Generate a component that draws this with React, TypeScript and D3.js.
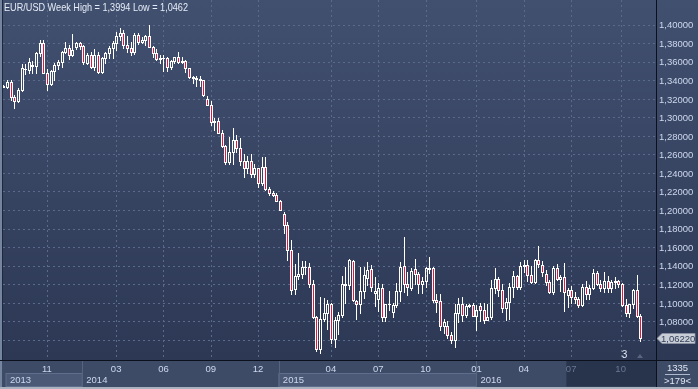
import React from 'react';
import * as d3 from 'd3';

// Weekly EUR/USD candles (oldest first)
const opens = [
  1.3335, 1.3330, 1.3385, 1.3220, 1.3170, 1.3290, 1.3525, 1.3510, 1.3560, 1.3550,
  1.3688, 1.3805, 1.3482, 1.3360, 1.3495, 1.3560, 1.3595, 1.3705, 1.3745, 1.3668,
  1.3760, 1.3800, 1.3765, 1.3590, 1.3666, 1.3541, 1.3676, 1.3486, 1.3634, 1.3693,
  1.3743, 1.3804, 1.3874, 1.3913, 1.3781, 1.3751, 1.3704, 1.3886, 1.3813, 1.3830,
  1.3872, 1.3757, 1.3696, 1.3628, 1.3636, 1.3642, 1.3542, 1.3608, 1.3646, 1.3594,
  1.3605, 1.3526, 1.3430, 1.3427, 1.3412, 1.3399, 1.3197, 1.3132, 1.2951, 1.2963,
  1.2833, 1.2685, 1.2518, 1.2628, 1.2760, 1.2667, 1.2525, 1.2451, 1.2526, 1.2388,
  1.2451, 1.2290, 1.2464, 1.2226, 1.2185, 1.2160, 1.2102, 1.1960, 1.1842, 1.1567,
  1.1150, 1.1290, 1.1315, 1.1387, 1.1381, 1.1197, 1.0848, 1.0500, 1.0821, 1.0888,
  1.0985, 1.0610, 1.0815, 1.0873, 1.1205, 1.1195, 1.1448, 1.1018, 1.0990, 1.1125,
  1.1270, 1.1368, 1.1100, 1.1040, 1.1163, 1.0843, 1.0982, 1.0900, 1.0975, 1.1125,
  1.1400, 1.1205, 1.1155, 1.1360, 1.1310, 1.1200, 1.1235, 1.1360, 1.1370, 1.1030,
  1.1015, 1.0745, 1.0752, 1.0655, 1.0600, 1.0890, 1.0990, 1.0870, 1.0962, 1.0975,
  1.0862, 1.0960, 1.0925, 1.0815, 1.0850, 1.1160, 1.1257, 1.1140, 1.0940, 1.1005,
  1.1170, 1.1285, 1.1170, 1.1391, 1.1410, 1.1295, 1.1228, 1.1465, 1.1410, 1.1310,
  1.1220, 1.1115, 1.1370, 1.1255, 1.1280, 1.1085, 1.1140, 1.1060, 1.1040, 1.0977,
  1.1175, 1.1095, 1.1160, 1.1325, 1.1200, 1.1155, 1.1232, 1.1160, 1.1227, 1.1239,
  1.1205, 1.0975, 1.0885, 1.0985, 1.1140, 1.0855,
];
const highs = [
  1.3345, 1.3400, 1.3405, 1.3235, 1.3310, 1.3570, 1.3570, 1.3640, 1.3605, 1.3705,
  1.3832, 1.3830, 1.3525, 1.3510, 1.3580, 1.3620, 1.3712, 1.3811, 1.3780, 1.3893,
  1.3815, 1.3810, 1.3775, 1.3690, 1.3700, 1.3740, 1.3700, 1.3645, 1.3700, 1.3772,
  1.3825, 1.3915, 1.3967, 1.3940, 1.3875, 1.3810, 1.3905, 1.3906, 1.3867, 1.3890,
  1.3994, 1.3770, 1.3735, 1.3670, 1.3670, 1.3646, 1.3614, 1.3648, 1.3700, 1.3650,
  1.3620, 1.3530, 1.3445, 1.3445, 1.3445, 1.3400, 1.3225, 1.3175, 1.2990, 1.2990,
  1.2860, 1.2700, 1.2790, 1.2887, 1.2810, 1.2780, 1.2600, 1.2577, 1.2600, 1.2500,
  1.2456, 1.2570, 1.2570, 1.2250, 1.2200, 1.2180, 1.2110, 1.1980, 1.1870, 1.1680,
  1.1423, 1.1535, 1.1450, 1.1450, 1.1430, 1.1250, 1.0857, 1.1060, 1.1052, 1.1035,
  1.1000, 1.0850, 1.0900, 1.1290, 1.1390, 1.1467, 1.1465, 1.1035, 1.1385, 1.1385,
  1.1437, 1.1410, 1.1278, 1.1215, 1.1200, 1.0990, 1.1130, 1.1000, 1.1215, 1.1440,
  1.1714, 1.1330, 1.1370, 1.1470, 1.1330, 1.1280, 1.1390, 1.1495, 1.1390, 1.1095,
  1.1095, 1.0830, 1.0800, 1.0690, 1.0990, 1.1050, 1.1060, 1.0990, 1.0990, 1.0995,
  1.0971, 1.0995, 1.0992, 1.0985, 1.1245, 1.1376, 1.1280, 1.1200, 1.1050, 1.1218,
  1.1342, 1.1300, 1.1438, 1.1465, 1.1465, 1.1398, 1.1470, 1.1616, 1.1445, 1.1350,
  1.1250, 1.1395, 1.1416, 1.1300, 1.1428, 1.1160, 1.1185, 1.1120, 1.1060, 1.1200,
  1.1235, 1.1190, 1.1366, 1.1340, 1.1250, 1.1327, 1.1285, 1.1240, 1.1280, 1.1245,
  1.1215, 1.1040, 1.0990, 1.1145, 1.1300, 1.0875,
];
const lows = [
  1.3322, 1.3315, 1.3190, 1.3105, 1.3160, 1.3280, 1.3470, 1.3480, 1.3480, 1.3478,
  1.3660, 1.3475, 1.3290, 1.3345, 1.3400, 1.3520, 1.3545, 1.3690, 1.3625, 1.3655,
  1.3740, 1.3740, 1.3575, 1.3570, 1.3528, 1.3507, 1.3477, 1.3475, 1.3585, 1.3640,
  1.3640, 1.3730, 1.3830, 1.3750, 1.3705, 1.3673, 1.3680, 1.3790, 1.3800, 1.3775,
  1.3754, 1.3647, 1.3615, 1.3587, 1.3503, 1.3500, 1.3525, 1.3585, 1.3590, 1.3580,
  1.3490, 1.3420, 1.3365, 1.3333, 1.3335, 1.3230, 1.3130, 1.2919, 1.2860, 1.2830,
  1.2680, 1.2500, 1.2500, 1.2500, 1.2620, 1.2480, 1.2357, 1.2395, 1.2360, 1.2360,
  1.2246, 1.2270, 1.2220, 1.2165, 1.2150, 1.2100, 1.2000, 1.1755, 1.1460, 1.1098,
  1.1098, 1.1260, 1.1270, 1.1315, 1.1175, 1.0840, 1.0480, 1.0462, 1.0800, 1.0715,
  1.0570, 1.0520, 1.0660, 1.0850, 1.1000, 1.1150, 1.1015, 1.0820, 1.0887, 1.1050,
  1.1190, 1.1130, 1.0960, 1.0915, 1.0808, 1.0808, 1.0925, 1.0850, 1.0950, 1.1020,
  1.1115, 1.1085, 1.1140, 1.1200, 1.1105, 1.1105, 1.1170, 1.1325, 1.1010, 1.0895,
  1.0710, 1.0675, 1.0618, 1.0566, 1.0524, 1.0795, 1.0805, 1.0850, 1.0950, 1.0855,
  1.0711, 1.0805, 1.0778, 1.0810, 1.0820, 1.1100, 1.1070, 1.0900, 1.0810, 1.0822,
  1.1060, 1.1145, 1.1145, 1.1330, 1.1235, 1.1215, 1.1215, 1.1385, 1.1285, 1.1195,
  1.1100, 1.1095, 1.1240, 1.1130, 1.0912, 1.0956, 1.1000, 1.1000, 1.0952, 1.0960,
  1.1045, 1.1045, 1.1150, 1.1190, 1.1125, 1.1120, 1.1120, 1.1120, 1.1160, 1.1165,
  1.0965, 1.0855, 1.0850, 1.0940, 1.0850, 1.0585,
];
const closes = [
  1.3330, 1.3385, 1.3222, 1.3178, 1.3290, 1.3527, 1.3515, 1.3598, 1.3548, 1.3688,
  1.3800, 1.3482, 1.3360, 1.3495, 1.3560, 1.3595, 1.3705, 1.3745, 1.3668, 1.3720,
  1.3800, 1.3765, 1.3600, 1.3666, 1.3541, 1.3676, 1.3486, 1.3634, 1.3693, 1.3743,
  1.3804, 1.3874, 1.3913, 1.3781, 1.3751, 1.3704, 1.3886, 1.3813, 1.3830, 1.3872,
  1.3757, 1.3696, 1.3628, 1.3636, 1.3642, 1.3542, 1.3608, 1.3646, 1.3594, 1.3605,
  1.3526, 1.3430, 1.3427, 1.3412, 1.3399, 1.3240, 1.3132, 1.2951, 1.2963, 1.2833,
  1.2685, 1.2518, 1.2628, 1.2760, 1.2667, 1.2525, 1.2451, 1.2526, 1.2388, 1.2451,
  1.2290, 1.2464, 1.2226, 1.2185, 1.2160, 1.2102, 1.2005, 1.1842, 1.1567, 1.1140,
  1.1290, 1.1315, 1.1387, 1.1381, 1.1197, 1.0848, 1.0500, 1.0821, 1.0888, 1.0985,
  1.0610, 1.0815, 1.0873, 1.1205, 1.1195, 1.1458, 1.1025, 1.0990, 1.1125, 1.1300,
  1.1355, 1.1170, 1.1130, 1.1163, 1.0843, 1.0982, 1.0990, 1.0975, 1.1125, 1.1387,
  1.1200, 1.1166, 1.1345, 1.1310, 1.1205, 1.1235, 1.1370, 1.1370, 1.1030, 1.1012,
  1.0745, 1.0790, 1.0655, 1.0600, 1.0890, 1.0990, 1.0870, 1.0962, 1.0975, 1.0862,
  1.0922, 1.0925, 1.0815, 1.0850, 1.1160, 1.1257, 1.1140, 1.0940, 1.1005, 1.1170,
  1.1285, 1.1170, 1.1400, 1.1402, 1.1295, 1.1228, 1.1460, 1.1415, 1.1330, 1.1220,
  1.1115, 1.1370, 1.1255, 1.1280, 1.1117, 1.1140, 1.1060, 1.1040, 1.0977, 1.1175,
  1.1095, 1.1160, 1.1325, 1.1200, 1.1155, 1.1232, 1.1160, 1.1227, 1.1239, 1.1205,
  1.0975, 1.0885, 1.0985, 1.1140, 1.0855, 1.0622,
];

const priceLabels = [1.40, 1.38, 1.36, 1.34, 1.32, 1.30, 1.28, 1.26, 1.24, 1.22, 1.20, 1.18, 1.16, 1.14, 1.12, 1.10, 1.08];
const gridPrices = [1.40, 1.38, 1.36, 1.34, 1.32, 1.30, 1.28, 1.26, 1.24, 1.22, 1.20, 1.18, 1.16, 1.14, 1.12, 1.10, 1.08, 1.06];
const monthLabels = ['11', '03', '06', '09', '12', '04', '07', '10', '01', '04', '07', '10'];
const monthBars = [12, 31, 44, 57, 70, 90, 103, 116, 130, 143, 156, 169.6];
const yearLabels = ['2013', '2014', '2015', '2016'];
const yearStartBars = [0.75, 21.7, 75.7, 130];
const shadedYears = ['2013', '2015'];
const dimFromBar = 154.7;
const lastPrice = 1.0622;
const titleText = 'EUR/USD Week High = 1,3994 Low = 1,0462';
const markerLabel = '3';
const markerBar = 171.5;
const cornerTop = '1335';
const cornerBottom = '>179<';

const RED = '#e5173f';
const GRID = '#5b6a8b';
const LABEL = '#cdd8ee';
const FONT = "'Liberation Sans', Arial, sans-serif";

const comma5 = d3
  .formatLocale({ decimal: ',', thousands: '.', grouping: [3], currency: ['', ''] })
  .format('.5f');

export default function App() {
  const W = 698;
  const H = 389;
  const plotLeft = 3;
  const axisX = 656;
  const plotBottom = 360;
  const n = opens.length;

  const x = d3.scaleLinear().domain([0, n - 1]).range([3.3, 640.3]);
  const y = d3.scaleLinear().domain([1.06, 1.4]).range([339.85, 24.5]);

  const candles = opens.map((o, i) => {
    const c = closes[i];
    const cx = Math.round(x(i));
    const top = Math.round(y(Math.max(o, c)));
    const bot = Math.round(y(Math.min(o, c)));
    const hi = Math.round(y(highs[i]));
    const lo = Math.round(y(lows[i]));
    const bear = c < o;
    return (
      <g key={i}>
        {hi < top && <line x1={cx + 0.5} x2={cx + 0.5} y1={hi} y2={top} stroke="#ffffff" />}
        {lo > bot && <line x1={cx + 0.5} x2={cx + 0.5} y1={bot + 1} y2={lo + 1} stroke="#ffffff" />}
        {bot - top >= 2 ? (
          <rect x={cx - 0.5} y={top + 0.5} width={2} height={bot - top} fill={bear ? RED : 'none'} stroke="#ffffff" strokeWidth={1} />
        ) : (
          <rect x={cx - 1} y={top} width={3} height={bot - top + 1} fill="#ffffff" />
        )}
      </g>
    );
  });

  const yb = yearStartBars.map((b) => x(b));
  const yearEnds = yearStartBars.map((_, i) => (i < yearStartBars.length - 1 ? x(yearStartBars[i + 1]) : axisX));
  const dimX = x(dimFromBar);
  const tagY = Math.round(y(lastPrice)) + 0.5;

  return (
    <svg width={W} height={H} style={{ position: 'fixed', left: 0, top: 0, display: 'block' }} fontFamily={FONT}>
      <defs>
        <linearGradient id="bg" x1="0" y1="0" x2="0" y2="1">
          <stop offset="0" stopColor="#425070" />
          <stop offset="1" stopColor="#2c3854" />
        </linearGradient>
        <clipPath id="plotClip">
          <rect x={plotLeft} y={0} width={axisX - plotLeft} height={plotBottom} />
        </clipPath>
      </defs>

      <rect x={0} y={0} width={W} height={plotBottom} fill="url(#bg)" />

      {/* grid */}
      <g clipPath="url(#plotClip)">
        {gridPrices.map((p) => (
          <line key={p} x1={plotLeft} x2={axisX} y1={Math.round(y(p)) + 0.5} y2={Math.round(y(p)) + 0.5} stroke={GRID} strokeDasharray="2,3" />
        ))}
        {monthBars.map((b, i) => (
          <line key={i} x1={Math.round(x(b)) + 0.5} x2={Math.round(x(b)) + 0.5} y1={0} y2={plotBottom} stroke={GRID} strokeDasharray="2,3" />
        ))}
        {candles}
      </g>

      {/* left border */}
      <rect x={0} y={0} width={2} height={H} fill="#75859f" />
      <rect x={2} y={0} width={1} height={plotBottom} fill="#1f283b" />

      {/* title */}
      <text x={4} y={11} fontSize={10.5} fill="#e6ecf6" textLength={184} lengthAdjust="spacingAndGlyphs">
        {titleText}
      </text>

      {/* right price axis */}
      {priceLabels.map((p) => (
        <text key={p} x={659} y={y(p) + 3.8} fontSize={9.5} fill={LABEL}>
          {comma5(p)}
        </text>
      ))}

      {/* last price tag */}
      <polygon
        points={`657,${tagY} 662,${tagY - 5} 695,${tagY - 5} 695,${tagY + 5} 662,${tagY + 5}`}
        fill="#c8cdd6"
        stroke="#8e96a6"
        strokeWidth={0.8}
      />
      <text x={661} y={tagY + 3.6} fontSize={9.5} fill="#34405a">
        {comma5(lastPrice)}
      </text>

      {/* bar-count marker */}
      <text x={x(markerBar) - 3} y={358} fontSize={10} fill="#e6ecf6" textAnchor="middle">
        {markerLabel}
      </text>
      <polygon points={`${Math.round(x(n - 1))},354 ${Math.round(x(n - 1)) - 3},358 ${Math.round(x(n - 1)) + 3},358`} fill="#5a6580" />

      {/* axis frame lines */}
      <line x1={0} x2={W} y1={plotBottom + 0.5} y2={plotBottom + 0.5} stroke="#0b101c" />
      <line x1={axisX + 0.5} x2={axisX + 0.5} y1={0} y2={H} stroke="#0b101c" />

      {/* bottom time axis */}
      <rect x={2} y={361} width={axisX - 2} height={26} fill="#3e4b67" />
      {yearLabels.map((yl, i) =>
        shadedYears.includes(yl) ? (
          <g key={yl}>
            <rect x={yb[i]} y={373.5} width={yearEnds[i] - yb[i]} height={13} fill="#4b5977" stroke="#5f6d8c" strokeWidth={1} />
          </g>
        ) : null
      )}
      {yearStartBars.slice(1).map((b, i) => (
        <line key={i} x1={Math.round(x(b)) + 0.5} x2={Math.round(x(b)) + 0.5} y1={361} y2={387} stroke="#56647f" />
      ))}
      <rect x={dimX} y={361} width={axisX - dimX} height={25.5} fill="#28334c" />
      {monthLabels.map((m, i) => (
        <text
          key={i}
          x={x(monthBars[i])}
          y={371.5}
          fontSize={9.5}
          textAnchor="middle"
          fill={x(monthBars[i]) > dimX ? '#6b7893' : LABEL}
        >
          {m}
        </text>
      ))}
      {yearLabels.map((yl, i) => (
        <text key={yl} x={yb[i] + 4} y={383} fontSize={9.5} fill={LABEL}>
          {yl}
        </text>
      ))}

      {/* corner box */}
      <rect x={axisX + 1} y={361} width={W - axisX - 1} height={26} fill="#3e4b67" />
      <text x={677.5} y={371} fontSize={9.5} textAnchor="middle" fill="#dfe6f3">
        {cornerTop}
      </text>
      <line x1={665} x2={690} y1={374.5} y2={374.5} stroke="#aeb8cc" />
      <text x={677.5} y={384} fontSize={9.5} textAnchor="middle" fill="#dfe6f3">
        {cornerBottom}
      </text>

      {/* bottom strip */}
      <rect x={0} y={387} width={W} height={2} fill="#aab2c0" />
    </svg>
  );
}
